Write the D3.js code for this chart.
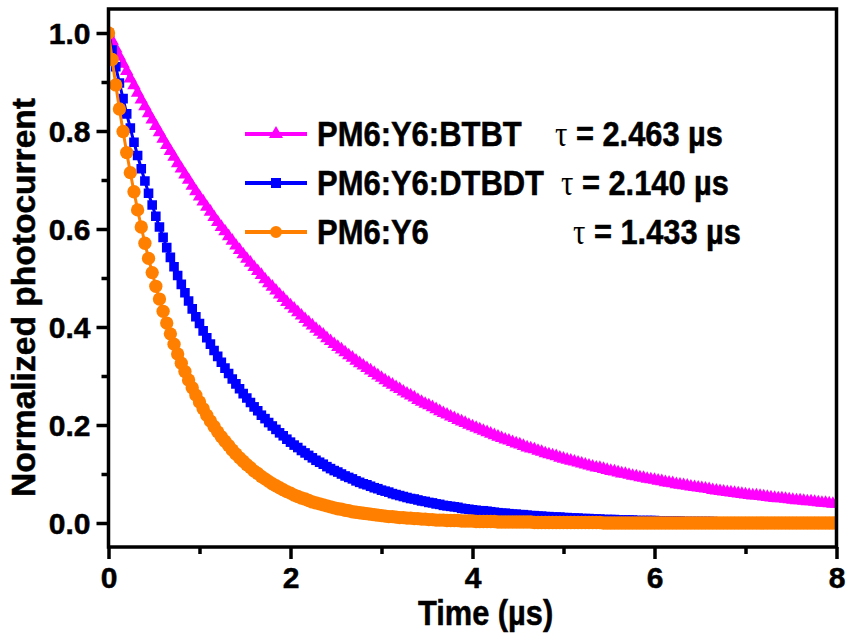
<!DOCTYPE html>
<html>
<head>
<meta charset="utf-8">
<script src="https://cdn.jsdelivr.net/npm/d3@7"></script>
<style>
  body { margin: 0; background: #fff; }
  text { font-family: "Liberation Sans", Arial, sans-serif; font-weight: bold; fill: #000; stroke: #000; stroke-width: 0.5px; }
</style>
</head>
<body>
<div id="chart"></div>
<script>
// Transient photocurrent decay, normalized

// Tick values
const xMajor = [0, 2, 4, 6, 8],
	xMinor = [1, 3, 5, 7],
	yMajor = [0, 0.2, 0.4, 0.6, 0.8, 1.0],
	yMinor = [0.1, 0.3, 0.5, 0.7, 0.9];

// Legend entries
const names = ["PM6:Y6:BTBT", "PM6:Y6:DTBDT", "PM6:Y6"],
	taus = ["2.463", "2.140", "1.433"],
	colors = ["#ff00ff", "#0000ff", "#ff8000"];

// Sample spacing of the time axis (µs)
const timeStep = 0.04;

// Normalized photocurrent, one value per sample
const btbt = [1.000,0.984,0.968,0.952,0.937,0.922,0.907,0.893,0.878,0.864,
	0.850,0.836,0.823,0.810,0.797,0.784,0.771,0.759,0.747,0.734,
	0.723,0.711,0.700,0.688,0.677,0.666,0.656,0.645,0.635,0.624,
	0.614,0.604,0.595,0.585,0.576,0.566,0.557,0.548,0.539,0.531,
	0.522,0.514,0.506,0.497,0.489,0.482,0.474,0.466,0.459,0.451,
	0.444,0.437,0.430,0.423,0.416,0.409,0.403,0.396,0.390,0.384,
	0.377,0.371,0.365,0.359,0.354,0.348,0.342,0.337,0.331,0.326,
	0.321,0.316,0.311,0.306,0.301,0.296,0.291,0.286,0.282,0.277,
	0.273,0.268,0.264,0.260,0.256,0.251,0.247,0.243,0.240,0.236,
	0.232,0.228,0.224,0.221,0.217,0.214,0.210,0.207,0.204,0.200,
	0.197,0.194,0.191,0.188,0.185,0.182,0.179,0.176,0.173,0.170,
	0.168,0.165,0.162,0.160,0.157,0.154,0.152,0.150,0.147,0.145,
	0.142,0.140,0.138,0.136,0.133,0.131,0.129,0.127,0.125,0.123,
	0.121,0.119,0.117,0.115,0.113,0.112,0.110,0.108,0.106,0.105,
	0.103,0.101,0.100,0.098,0.096,0.095,0.093,0.092,0.090,0.089,
	0.088,0.086,0.085,0.083,0.082,0.081,0.079,0.078,0.077,0.076,
	0.074,0.073,0.072,0.071,0.070,0.069,0.067,0.066,0.065,0.064,
	0.063,0.062,0.061,0.060,0.059,0.058,0.057,0.056,0.056,0.055,
	0.054,0.053,0.052,0.051,0.050,0.050,0.049,0.048,0.047,0.046,
	0.046,0.045,0.044,0.044,0.043,0.042,0.041,0.041,0.040,0.039,
	0.039];

const dtbdt = [1.000,0.965,0.931,0.898,0.866,0.835,0.806,0.777,0.750,0.723,
	0.698,0.673,0.649,0.626,0.604,0.583,0.562,0.542,0.523,0.505,
	0.487,0.470,0.453,0.437,0.421,0.407,0.392,0.378,0.365,0.352,
	0.340,0.328,0.316,0.305,0.294,0.284,0.274,0.264,0.255,0.246,
	0.237,0.229,0.220,0.213,0.205,0.198,0.191,0.184,0.178,0.171,
	0.165,0.159,0.154,0.148,0.143,0.138,0.133,0.128,0.124,0.120,
	0.115,0.111,0.107,0.104,0.100,0.096,0.093,0.090,0.086,0.083,
	0.080,0.078,0.075,0.072,0.070,0.067,0.065,0.063,0.060,0.058,
	0.056,0.054,0.052,0.050,0.049,0.047,0.045,0.044,0.042,0.041,
	0.039,0.038,0.036,0.035,0.034,0.033,0.032,0.030,0.029,0.028,
	0.027,0.026,0.025,0.025,0.024,0.023,0.022,0.021,0.020,0.020,
	0.019,0.018,0.018,0.017,0.017,0.016,0.015,0.015,0.014,0.014,
	0.013,0.013,0.012,0.012,0.012,0.011,0.011,0.010,0.010,0.010,
	0.009,0.009,0.009,0.008,0.008,0.008,0.007,0.007,0.007,0.007,
	0.006,0.006,0.006,0.006,0.006,0.005,0.005,0.005,0.005,0.005,
	0.005,0.004,0.004,0.004,0.004,0.004,0.004,0.004,0.003,0.003,
	0.003,0.003,0.003,0.003,0.003,0.003,0.003,0.002,0.002,0.002,
	0.002,0.002,0.002,0.002,0.002,0.002,0.002,0.002,0.002,0.002,
	0.002,0.001,0.001,0.001,0.001,0.001,0.001,0.001,0.001,0.001,
	0.001,0.001,0.001,0.001,0.001,0.001,0.001,0.001,0.001,0.001,
	0.001];

const y6 = [1.000,0.946,0.894,0.845,0.799,0.756,0.715,0.676,0.639,0.604,
	0.571,0.540,0.511,0.483,0.457,0.432,0.408,0.386,0.365,0.345,
	0.326,0.309,0.292,0.276,0.261,0.247,0.233,0.220,0.208,0.197,
	0.186,0.176,0.167,0.158,0.149,0.141,0.133,0.126,0.119,0.113,
	0.106,0.101,0.095,0.090,0.085,0.080,0.076,0.072,0.068,0.064,
	0.061,0.057,0.054,0.051,0.049,0.046,0.043,0.041,0.039,0.037,
	0.035,0.033,0.031,0.029,0.028,0.026,0.025,0.023,0.022,0.021,
	0.020,0.019,0.018,0.017,0.016,0.015,0.014,0.013,0.013,0.012,
	0.011,0.011,0.010,0.010,0.009,0.009,0.008,0.008,0.007,0.007,
	0.006,0.006,0.006,0.005,0.005,0.005,0.005,0.004,0.004,0.004,
	0.004,0.003,0.003,0.003,0.003,0.003,0.003,0.002,0.002,0.002,
	0.002,0.002,0.002,0.002,0.002,0.002,0.002,0.001,0.001,0.001,
	0.001,0.001,0.001,0.001,0.001,0.001,0.001,0.001,0.001,0.001,
	0.001,0.001,0.001,0.001,0.001,0.001,0,0,0,0,
	0,0,0,0,0,0,0,0,0,0,
	0,0,0,0,0,0,0,0,0,0,
	0,0,0,0,0,0,0,0,0,0,
	0,0,0,0,0,0,0,0,0,0,
	0,0,0,0,0,0,0,0,0,0,
	0,0,0,0,0,0,0,0,0,0,
	0];

// -------------------------------

const width = 848, height = 634;

let svg = d3.select("#chart").append("svg")
	.attr("width", width)
	.attr("height", height);

// Scales: frame runs a little past 0 and 1 on the y side
let x = d3.scaleLinear().domain([0, 8]).range([108.5, 836.5]);
let y = d3.scaleLinear().domain([0, 1]).range([523, 33]);
const yLow = -0.049, yHigh = 1.049;

// Clip the data to the frame
svg.append("clipPath").attr("id", "plot")
	.append("rect")
	.attr("x", x(0)).attr("y", y(yHigh))
	.attr("width", x(8) - x(0)).attr("height", y(yLow) - y(yHigh));

// Minor ticks first, then the labelled axes
let styleAxis = (g) => {
	g.select(".domain").remove();
	g.selectAll(".tick line").attr("stroke", "#000").attr("stroke-width", 3.5);
	g.selectAll(".tick text")
		.style("font-family", '"Liberation Sans", Arial, sans-serif')
		.style("font-weight", "bold")
		.style("font-size", "30px")
		.attr("fill", "#000");
};

svg.append("g")
	.attr("transform", "translate(0," + y(yLow) + ")")
	.call(d3.axisBottom(x).tickValues(xMinor).tickSize(7).tickFormat(""))
	.call(styleAxis);

svg.append("g")
	.attr("transform", "translate(0," + y(yLow) + ")")
	.call(d3.axisBottom(x).tickValues(xMajor).tickSize(12).tickPadding(8).tickFormat(d3.format("d")))
	.call(styleAxis);

svg.append("g")
	.attr("transform", "translate(" + x(0) + ",0)")
	.call(d3.axisLeft(y).tickValues(yMinor).tickSize(7).tickFormat(""))
	.call(styleAxis);

svg.append("g")
	.attr("transform", "translate(" + x(0) + ",0)")
	.call(d3.axisLeft(y).tickValues(yMajor).tickSize(12).tickPadding(6).tickFormat(d3.format(".1f")))
	.call(styleAxis)
	.selectAll(".tick text").attr("dy", "0.36em");

// Data series: magenta under blue under orange
let series = [
	{ values: btbt, color: colors[0], symbol: d3.symbolTriangle, size: 78 },
	{ values: dtbdt, color: colors[1], symbol: d3.symbolSquare, size: 92 },
	{ values: y6, color: colors[2], symbol: d3.symbolCircle, size: 140 }
];

let line = d3.line()
	.x((d, i) => x(i * timeStep))
	.y(d => y(d));

let plot = svg.append("g").attr("clip-path", "url(#plot)");

series.forEach(s => {
	plot.append("path")
		.attr("d", line(s.values))
		.attr("fill", "none")
		.attr("stroke", s.color)
		.attr("stroke-width", 3);
	plot.selectAll(null)
		.data(s.values)
		.enter().append("path")
		.attr("transform", (d, i) => "translate(" + x(i * timeStep) + "," + y(d) + ")")
		.attr("d", d3.symbol().type(s.symbol).size(s.size))
		.attr("fill", s.color);
});

// Frame
svg.append("rect")
	.attr("x", x(0)).attr("y", y(yHigh))
	.attr("width", x(8) - x(0)).attr("height", y(yLow) - y(yHigh))
	.attr("fill", "none")
	.attr("stroke", "#000")
	.attr("stroke-width", 3.5);

// Axis titles (the original lettering is a bit narrower than Liberation Sans)
svg.append("text")
	.attr("transform", "translate(418,625) scale(0.88,1)")
	.style("font-size", "35px")
	.text("Time (µs)");

svg.append("text")
	.attr("transform", "translate(35,297.5) rotate(-90)")
	.attr("text-anchor", "middle")
	.attr("textLength", 399).attr("lengthAdjust", "spacingAndGlyphs")
	.style("font-size", "33px")
	.text("Normalized photocurrent");

// Legend
const rowBase = [146, 195, 244],
	tauStart = [555, 561, 573],
	legendSymbols = [d3.symbolTriangle, d3.symbolSquare, d3.symbolCircle],
	legendSizes = [85, 100, 113];

names.forEach((name, i) => {
	let ly = rowBase[i] - 12;
	svg.append("line")
		.attr("x1", 245).attr("x2", 307)
		.attr("y1", ly).attr("y2", ly)
		.attr("stroke", colors[i]).attr("stroke-width", 4);
	svg.append("path")
		.attr("transform", "translate(276," + ly + ")")
		.attr("d", d3.symbol().type(legendSymbols[i]).size(legendSizes[i]))
		.attr("fill", colors[i]);
	svg.append("text")
		.attr("transform", "translate(317," + rowBase[i] + ") scale(0.885,1)")
		.style("font-size", "35px")
		.text(name);
	let t = svg.append("text")
		.attr("transform", "translate(" + tauStart[i] + "," + rowBase[i] + ") scale(0.88,1)")
		.style("font-size", "35px");
	t.append("tspan")
		.style("font-family", '"Liberation Serif", "Times New Roman", serif')
		.style("font-weight", "normal")
		.style("stroke-width", "0px")
		.text("τ");
	t.append("tspan").text(" = " + taus[i] + " µs");
});
</script>
</body>
</html>
